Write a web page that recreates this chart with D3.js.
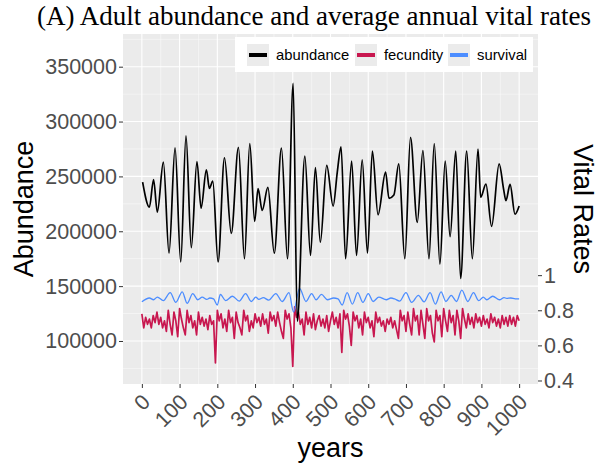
<!DOCTYPE html>
<html>
<head>
<meta charset="utf-8">
<script src="https://cdn.jsdelivr.net/npm/d3@7"></script>
<style>
  html, body { margin: 0; padding: 0; background: #fff; }
  svg { display: block; }
</style>
</head>
<body>
<svg id="chart" width="600" height="475"></svg>
<script>
// ---------------- data ----------------
const titleText = "(A) Adult abundance and average annual vital rates";
const xTicks = [0, 100, 200, 300, 400, 500, 600, 700, 800, 900, 1000];
const leftTicks = [100000, 150000, 200000, 250000, 300000, 350000];
const rightTicks = [0.4, 0.6, 0.8, 1];
const legendLabels = ["abundance", "fecundity", "survival"];

// abundance: turning points (year, adults)
const abundanceYears = [2, 20, 31, 41, 57, 72, 88, 103, 117, 131, 146, 157, 171, 179, 188, 202, 219, 237, 256, 272, 286, 299, 308, 319, 334, 351, 370, 386, 401, 412, 432, 447, 460, 473, 490, 507, 518, 528, 540, 556, 569, 584, 598, 611, 626, 646, 655, 668, 681, 697, 712, 730, 745, 761, 775, 790, 804, 817, 832, 845, 861, 876, 891, 898, 912, 927, 947, 959, 965, 976, 989, 1000];
const abundanceValues = [244800, 222000, 247000, 217500, 263000, 180000, 276000, 172000, 287000, 185000, 263600, 221000, 256000, 239000, 245700, 172000, 267000, 198000, 276600, 175000, 280000, 209000, 238800, 219000, 240000, 180000, 275700, 175000, 334800, 118000, 268500, 178000, 258000, 190000, 260000, 223000, 254000, 277000, 175000, 264000, 178000, 265000, 180000, 273000, 215000, 254000, 230000, 233000, 261500, 175000, 285700, 208000, 273600, 175000, 280000, 170000, 264000, 195000, 273000, 157000, 273000, 175000, 275000, 231000, 243000, 204500, 261500, 238000, 228000, 242700, 215500, 223000];

// fecundity: every 5 years from 0 to 1000
const fecundityValues = [
 .78,.70,.76,.72,.75,.70,.77,.73,.79,.72,.76,.70,.74,.68,.80,.72,.66,.79,.74,.65,.81,
 .75,.70,.66,.80,.73,.77,.70,.74,.66,.79,.72,.76,.71,.75,.69,.77,.72,.74,.50,.80,
 .74,.78,.70,.75,.68,.80,.73,.76,.64,.79,.73,.70,.66,.80,.74,.77,.68,.74,.70,.78,
 .73,.76,.71,.78,.72,.75,.67,.79,.74,.77,.71,.79,.73,.68,.64,.80,.75,.78,.70,.48,
 .82,.76,.79,.72,.75,.66,.79,.72,.76,.70,.78,.69,.74,.77,.71,.75,.70,.77,.68,.74,
 .79,.72,.76,.70,.78,.56,.80,.75,.78,.71,.60,.79,.74,.77,.70,.75,.66,.79,.73,.76,
 .70,.74,.65,.79,.73,.76,.71,.74,.68,.75,.72,.76,.70,.74,.69,.64,.80,.74,.77,.68,
 .79,.72,.66,.81,.74,.77,.66,.80,.72,.64,.81,.74,.77,.67,.62,.80,.74,.77,.65,.81,
 .74,.68,.80,.73,.77,.66,.80,.74,.64,.81,.75,.70,.78,.72,.76,.70,.78,.73,.76,.71,
 .77,.72,.75,.70,.78,.73,.76,.71,.75,.70,.77,.72,.76,.71,.77,.72,.76,.71,.77,.74
];
const fecundityYears = d3.range(0, 1001, 5);

// survival: turning points (year, rate)
const survivalYears = [0, 20, 31, 41, 57, 75, 90, 107, 120, 135, 148, 160, 172, 180, 190, 200, 208, 222, 240, 258, 275, 290, 302, 310, 322, 336, 355, 372, 390, 402, 418, 435, 450, 462, 476, 492, 508, 520, 531, 544, 558, 572, 586, 600, 613, 628, 648, 660, 670, 683, 700, 715, 733, 748, 764, 778, 793, 806, 820, 834, 848, 864, 879, 893, 905, 914, 930, 948, 960, 967, 978, 990, 1000];
const survivalValues = [.848, .87, .86, .875, .855, .90, .845, .905, .84, .895, .86, .875, .862, .87, .865, .83, .89, .855, .88, .852, .895, .85, .875, .862, .872, .858, .895, .85, .90, .79, .925, .85, .895, .86, .89, .86, .87, .865, .83, .90, .835, .90, .845, .895, .85, .875, .86, .87, .865, .852, .90, .845, .885, .848, .90, .835, .905, .85, .885, .85, .915, .85, .90, .855, .875, .86, .88, .86, .872, .868, .87, .865, .865];

// ---------------- layout ----------------
const svg = d3.select("#chart");
const panel = { left: 123, right: 538, top: 34, bottom: 384 };
const colors = { abundance: "#000000", fecundity: "#c8174f", survival: "#4c8dff" };
const textGrey = "#4d4d4d";

const x = d3.scaleLinear().domain([-50, 1050]).range([panel.left, panel.right]);
const y = d3.scaleLinear().domain([60800, 379800]).range([panel.bottom, panel.top]);
const yR = d3.scaleLinear().domain([60800 / 160000, 379800 / 160000]).range([panel.bottom, panel.top]);

// panel background
svg.append("rect")
  .attr("x", panel.left).attr("y", panel.top)
  .attr("width", panel.right - panel.left).attr("height", panel.bottom - panel.top)
  .attr("fill", "#ebebeb");

const grid = svg.append("g");
// minor grid
const xMinor = d3.range(-50, 1051, 100).filter(v => x(v) > panel.left + 0.5 && x(v) < panel.right - 0.5);
const yMinor = [75000, 125000, 175000, 225000, 275000, 325000, 375000];
grid.selectAll(".xm").data(xMinor).join("line")
  .attr("x1", d => x(d)).attr("x2", d => x(d)).attr("y1", panel.top).attr("y2", panel.bottom)
  .attr("stroke", "#fafafa").attr("stroke-width", 0.6);
grid.selectAll(".ym").data(yMinor).join("line")
  .attr("y1", d => y(d)).attr("y2", d => y(d)).attr("x1", panel.left).attr("x2", panel.right)
  .attr("stroke", "#fafafa").attr("stroke-width", 0.6);
// major grid
grid.selectAll(".xM").data(xTicks).join("line")
  .attr("x1", d => x(d)).attr("x2", d => x(d)).attr("y1", panel.top).attr("y2", panel.bottom)
  .attr("stroke", "#ffffff").attr("stroke-width", 1.1);
grid.selectAll(".yM").data(leftTicks).join("line")
  .attr("y1", d => y(d)).attr("y2", d => y(d)).attr("x1", panel.left).attr("x2", panel.right)
  .attr("stroke", "#ffffff").attr("stroke-width", 1.1);

// lines
const lineAb = d3.line().x(d => x(d[0])).y(d => y(d[1])).curve(d3.curveMonotoneX);
const lineV = d3.line().x(d => x(d[0])).y(d => yR(d[1]));

svg.append("path")
  .datum(fecundityYears.map((yr, i) => [yr, fecundityValues[i]]))
  .attr("d", lineV)
  .attr("fill", "none").attr("stroke", colors.fecundity).attr("stroke-width", 1.7)
  .attr("stroke-linejoin", "round");

svg.append("path")
  .datum(survivalYears.map((yr, i) => [yr, survivalValues[i]]))
  .attr("d", lineV.curve(d3.curveMonotoneX))
  .attr("fill", "none").attr("stroke", colors.survival).attr("stroke-width", 1.3);

svg.append("path")
  .datum(abundanceYears.map((yr, i) => [yr, abundanceValues[i]]))
  .attr("d", lineAb)
  .attr("fill", "none").attr("stroke", colors.abundance).attr("stroke-width", 1.7);

// axes
const fontFam = "'Liberation Sans', Arial, Helvetica, sans-serif";
const leftAxis = svg.append("g").attr("transform", `translate(${panel.left},0)`)
  .call(d3.axisLeft(y).tickValues(leftTicks).tickSize(4).tickPadding(2).tickFormat(d3.format("d")));
const rightAxis = svg.append("g").attr("transform", `translate(${panel.right},0)`)
  .call(d3.axisRight(yR).tickValues(rightTicks).tickSize(4).tickPadding(2).tickFormat(d => d3.format("")(d)));
const bottomAxis = svg.append("g").attr("transform", `translate(0,${panel.bottom})`)
  .call(d3.axisBottom(x).tickValues(xTicks).tickSize(4).tickFormat(d3.format("d")));

[leftAxis, rightAxis, bottomAxis].forEach(g => {
  g.select(".domain").remove();
  g.selectAll(".tick line").attr("stroke", "#333333").attr("stroke-width", 1);
  g.selectAll(".tick text").attr("fill", textGrey).style("font-family", fontFam).style("font-size", "21.5px");
});
bottomAxis.selectAll(".tick text")
  .attr("text-anchor", "end")
  .attr("y", 0).attr("dy", 0)
  .attr("transform", "translate(-3,10) rotate(-45) translate(2,15)");

// axis titles
svg.append("text").text("Abundance")
  .attr("transform", "translate(33,209) rotate(-90)")
  .attr("text-anchor", "middle").style("font-family", fontFam).style("font-size", "27px").attr("fill", "#000");
svg.append("text").text("Vital Rates")
  .attr("transform", "translate(574,209) rotate(90)")
  .attr("text-anchor", "middle").style("font-family", fontFam).style("font-size", "27px").attr("fill", "#000");
svg.append("text").text("years")
  .attr("x", (panel.left + panel.right) / 2).attr("y", 457)
  .attr("text-anchor", "middle").style("font-family", fontFam).style("font-size", "27px").attr("fill", "#000");

// title
svg.append("text").text(titleText)
  .attr("x", 37).attr("y", 25)
  .style("font-family", "'Liberation Serif', 'Times New Roman', serif").style("font-size", "27px").attr("fill", "#000");

// legend
const legend = svg.append("g");
legend.append("rect").attr("x", 235).attr("y", 37).attr("width", 298).attr("height", 35).attr("fill", "#ffffff");
const keyX = [247, 355, 448];
const legColors = [colors.abundance, colors.fecundity, colors.survival];
legendLabels.forEach((lab, i) => {
  legend.append("rect").attr("x", keyX[i]).attr("y", 44).attr("width", 22).attr("height", 22).attr("fill", "#ebebeb");
  legend.append("line").attr("x1", keyX[i] + 2).attr("x2", keyX[i] + 20).attr("y1", 55).attr("y2", 55)
    .attr("stroke", legColors[i]).attr("stroke-width", 4);
  legend.append("text").text(lab).attr("x", keyX[i] + 29).attr("y", 60)
    .style("font-family", fontFam).style("font-size", "14.8px").attr("fill", "#000");
});
</script>
</body>
</html>
